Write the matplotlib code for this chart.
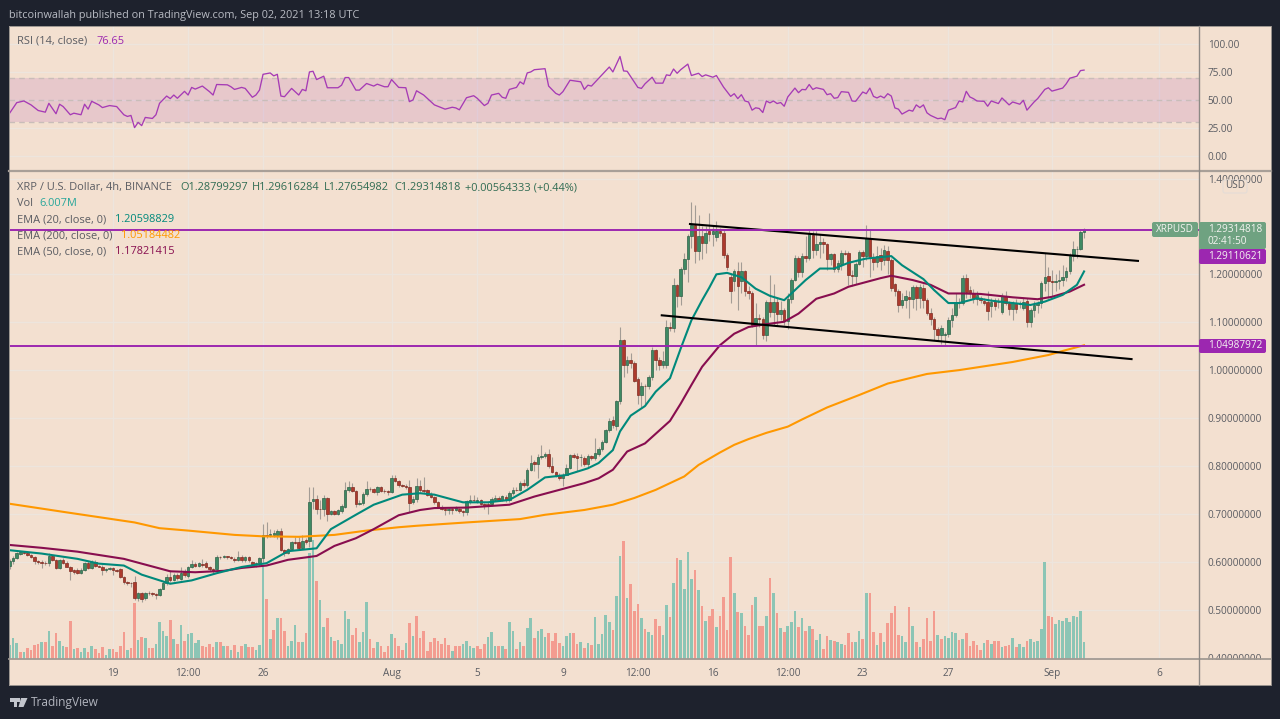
"""XRP / USD 4h TradingView screenshot: RSI pane, candles, EMAs, volume overlay."""
import matplotlib
matplotlib.use("Agg")
import numpy as np
import matplotlib.pyplot as plt
from matplotlib.patches import FancyBboxPatch, Polygon, Rectangle

W, H = 1280, 719
plt.rcParams["font.family"] = ["Open Sans", "DejaVu Sans"]

opens = [
    .592, .601, .608, .617, .62, .619, .615, .61, .602, .599,
    .598, .597, .611, .604, .587, .603, .598, .59, .583, .583,
    .577, .583, .597, .587, .6, .592, .59, .582, .584, .586,
    .582, .584, .568, .557, .556, .557, .524, .535, .524, .535,
    .534, .533, .53, .544, .556, .568, .562, .572, .564, .579,
    .57, .589, .596, .592, .596, .598, .589, .585, .584, .61,
    .609, .611, .609, .606, .603, .609, .603, .609, .6, .596,
    .597, .607, .655, .655, .655, .655, .665, .624, .619, .626,
    .641, .642, .629, .646, .644, .727, .731, .711, .711, .733,
    .7, .705, .7, .705, .714, .75, .756, .748, .72, .722,
    .741, .752, .751, .745, .755, .748, .747, .745, .774, .769,
    .76, .759, .757, .725, .73, .759, .75, .749, .742, .736,
    .724, .715, .71, .708, .711, .709, .711, .705, .704, .725,
    .729, .725, .729, .72, .72, .72, .728, .733, .729, .736,
    .728, .743, .75, .749, .765, .76, .792, .808, .804, .819,
    .82, .825, .8, .788, .78, .775, .782, .796, .822, .82,
    .818, .816, .803, .82, .816, .825, .836, .85, .875, .896,
    .883, .936, 1.062, 1.01, 1.022, 1.014, .981, .949, .967, .966,
    .985, 1.041, 1.021, 1.011, 1.011, 1.09, 1.088, 1.177, 1.154, 1.212,
    1.233, 1.28, 1.302, 1.248, 1.281, 1.265, 1.29, 1.284, 1.278, 1.291,
    1.287, 1.241, 1.194, 1.186, 1.206, 1.186, 1.206, 1.166, 1.162, 1.094,
    1.109, 1.106, 1.073, 1.142, 1.122, 1.142, 1.118, 1.126, 1.102, 1.149,
    1.189, 1.234, 1.205, 1.238, 1.235, 1.283, 1.25, 1.263, 1.268, 1.263,
    1.231, 1.242, 1.212, 1.221, 1.244, 1.244, 1.199, 1.197, 1.222, 1.246,
    1.239, 1.276, 1.236, 1.226, 1.24, 1.229, 1.248, 1.23, 1.18, 1.166,
    1.135, 1.147, 1.153, 1.148, 1.173, 1.15, 1.172, 1.147, 1.119, 1.107,
    1.085, 1.073, 1.074, 1.076, 1.105, 1.115, 1.143, 1.14, 1.192, 1.168,
    1.16, 1.148, 1.15, 1.145, 1.143, 1.133, 1.145, 1.142, 1.122, 1.155,
    1.141, 1.127, 1.14, 1.137, 1.13, 1.144, 1.101, 1.125, 1.135, 1.14,
    1.181, 1.196, 1.187, 1.183, 1.185, 1.188, 1.194, 1.206, 1.239, 1.252, 1.253, 1.28799,
]
closes = [
    .601, .608, .618, .62, .619, .615, .61, .602, .599, .598,
    .597, .611, .604, .587, .603, .598, .59, .581, .578, .577,
    .583, .597, .587, .6, .592, .59, .582, .584, .586, .582,
    .58, .569, .557, .556, .555, .524, .535, .522, .535, .534,
    .533, .53, .544, .556, .568, .562, .572, .565, .577, .572,
    .589, .596, .592, .598, .593, .589, .585, .581, .61, .609,
    .611, .609, .608, .603, .609, .603, .609, .603, .596, .597,
    .607, .655, .654, .658, .66, .665, .624, .619, .626, .641,
    .639, .629, .643, .642, .725, .731, .711, .71, .733, .7,
    .705, .7, .708, .716, .75, .756, .748, .72, .723, .742,
    .752, .751, .746, .755, .748, .747, .745, .774, .769, .76,
    .759, .757, .723, .73, .759, .75, .747, .74, .736, .724,
    .715, .71, .709, .711, .708, .712, .705, .704, .726, .729,
    .728, .729, .72, .717, .716, .73, .733, .728, .737, .728,
    .743, .75, .749, .765, .76, .792, .806, .804, .819, .82,
    .825, .8, .788, .78, .775, .78, .796, .822, .819, .817,
    .818, .803, .82, .817, .826, .836, .85, .875, .894, .885,
    .936, 1.062, 1.01, 1.022, 1.014, .978, .949, .967, .966, .985,
    1.043, 1.021, 1.011, 1.02, 1.09, 1.088, 1.177, 1.154, 1.212, 1.233,
    1.28, 1.302, 1.248, 1.281, 1.265, 1.287, 1.284, 1.29, 1.29, 1.287,
    1.241, 1.215, 1.165, 1.206, 1.176, 1.206, 1.166, 1.162, 1.094, 1.109,
    1.106, 1.073, 1.142, 1.122, 1.142, 1.118, 1.126, 1.102, 1.149, 1.189,
    1.234, 1.205, 1.238, 1.235, 1.285, 1.25, 1.263, 1.268, 1.263, 1.231,
    1.242, 1.212, 1.223, 1.244, 1.242, 1.199, 1.197, 1.222, 1.246, 1.239,
    1.276, 1.236, 1.225, 1.238, 1.228, 1.25, 1.23, 1.172, 1.166, 1.136,
    1.147, 1.155, 1.148, 1.173, 1.15, 1.173, 1.147, 1.119, 1.107, 1.085,
    1.073, 1.087, 1.076, 1.105, 1.115, 1.143, 1.14, 1.192, 1.164, 1.16,
    1.15, 1.157, 1.147, 1.14, 1.124, 1.142, 1.133, 1.143, 1.155, 1.141,
    1.127, 1.14, 1.127, 1.14, 1.143, 1.1, 1.125, 1.135, 1.14, 1.182,
    1.195, 1.187, 1.183, 1.187, 1.188, 1.195, 1.206, 1.239, 1.252, 1.253, 1.288, 1.29315,
]
highs = [
    .605, .612, .621, .623, .623, .622, .617, .612, .604, .603,
    .601, .618, .613, .606, .606, .607, .601, .592, .585, .586,
    .586, .6, .601, .603, .603, .594, .593, .587, .589, .588,
    .585, .587, .57, .56, .558, .571, .537, .537, .536, .539,
    .537, .535, .546, .559, .575, .583, .576, .576, .588, .585,
    .592, .603, .6, .6, .606, .601, .592, .587, .613, .612,
    .615, .612, .611, .609, .622, .613, .612, .611, .602, .6,
    .609, .678, .683, .669, .666, .669, .67, .627, .629, .643,
    .652, .652, .656, .65, .756, .756, .74, .728, .74, .735,
    .708, .708, .711, .72, .767, .768, .764, .75, .728, .745,
    .768, .755, .753, .758, .758, .752, .75, .78, .78, .771,
    .762, .762, .77, .737, .775, .77, .776, .752, .745, .738,
    .726, .718, .712, .714, .714, .716, .713, .708, .728, .74,
    .74, .735, .73, .722, .724, .735, .74, .737, .74, .74,
    .748, .755, .755, .768, .772, .795, .822, .812, .825, .843,
    .83, .835, .818, .79, .785, .785, .803, .825, .828, .826,
    .825, .82, .824, .823, .858, .84, .855, .878, .9, .905,
    .938, 1.089, 1.065, 1.03, 1.035, 1.02, .985, .975, .97, .99,
    1.048, 1.045, 1.027, 1.04, 1.105, 1.1, 1.193, 1.18, 1.216, 1.245,
    1.285, 1.35, 1.344, 1.323, 1.3, 1.3, 1.329, 1.3, 1.311, 1.297,
    1.292, 1.245, 1.2, 1.212, 1.225, 1.225, 1.21, 1.175, 1.165, 1.14,
    1.118, 1.11, 1.146, 1.198, 1.18, 1.15, 1.145, 1.13, 1.16, 1.192,
    1.24, 1.238, 1.245, 1.28, 1.295, 1.29, 1.29, 1.285, 1.275, 1.265,
    1.245, 1.245, 1.23, 1.25, 1.25, 1.248, 1.21, 1.225, 1.25, 1.25,
    1.302, 1.295, 1.245, 1.26, 1.255, 1.262, 1.26, 1.235, 1.182, 1.17,
    1.16, 1.168, 1.165, 1.178, 1.178, 1.18, 1.18, 1.15, 1.13, 1.11,
    1.09, 1.095, 1.08, 1.11, 1.13, 1.16, 1.15, 1.198, 1.2, 1.175,
    1.17, 1.165, 1.155, 1.15, 1.165, 1.15, 1.15, 1.15, 1.16, 1.165,
    1.145, 1.145, 1.148, 1.145, 1.15, 1.15, 1.13, 1.145, 1.145, 1.185,
    1.245, 1.215, 1.21, 1.2, 1.21, 1.22, 1.215, 1.245, 1.27, 1.26, 1.292, 1.29616,
]
lows = [
    .585, .595, .605, .615, .616, .612, .607, .595, .595, .586,
    .593, .592, .601, .585, .585, .595, .588, .561, .575, .575,
    .575, .58, .585, .585, .59, .588, .572, .578, .582, .572,
    .578, .565, .553, .551, .548, .52, .518, .516, .52, .53,
    .529, .522, .528, .542, .552, .558, .56, .562, .561, .569,
    .565, .586, .589, .588, .59, .587, .58, .577, .582, .606,
    .607, .606, .605, .6, .601, .6, .6, .6, .593, .59,
    .592, .6, .65, .651, .652, .648, .622, .612, .617, .624,
    .636, .627, .626, .636, .63, .71, .7, .69, .695, .685,
    .697, .697, .698, .702, .712, .745, .745, .715, .718, .718,
    .738, .748, .743, .74, .745, .744, .74, .743, .766, .757,
    .755, .752, .703, .72, .725, .745, .744, .737, .733, .72,
    .712, .707, .698, .7, .7, .705, .702, .695, .698, .72,
    .725, .722, .718, .71, .699, .717, .726, .726, .726, .725,
    .725, .74, .747, .747, .757, .757, .79, .79, .774, .815,
    .816, .795, .785, .777, .77, .759, .78, .794, .816, .79,
    .8, .8, .795, .812, .813, .82, .832, .847, .87, .88,
    .875, .93, .985, .995, 1.005, .975, .93, .924, .93, .96,
    .98, 1.0, 1.0, 1.005, 1.005, 1.082, 1.08, 1.132, 1.135, 1.2,
    1.183, 1.255, 1.224, 1.23, 1.233, 1.245, 1.27, 1.26, 1.27, 1.28,
    1.235, 1.21, 1.14, 1.165, 1.125, 1.16, 1.155, 1.148, 1.09, 1.052,
    1.09, 1.065, 1.06, 1.11, 1.095, 1.095, 1.105, 1.095, 1.085, 1.14,
    1.185, 1.195, 1.195, 1.225, 1.23, 1.235, 1.24, 1.235, 1.245, 1.21,
    1.22, 1.205, 1.205, 1.21, 1.24, 1.177, 1.175, 1.18, 1.22, 1.215,
    1.23, 1.195, 1.21, 1.215, 1.21, 1.22, 1.2, 1.165, 1.155, 1.122,
    1.13, 1.13, 1.108, 1.13, 1.125, 1.13, 1.13, 1.115, 1.095, 1.063,
    1.06, 1.055, 1.053, 1.07, 1.09, 1.11, 1.13, 1.135, 1.15, 1.15,
    1.14, 1.135, 1.14, 1.135, 1.105, 1.11, 1.125, 1.13, 1.118, 1.135,
    1.115, 1.105, 1.12, 1.13, 1.125, 1.09, 1.09, 1.11, 1.12, 1.13,
    1.165, 1.15, 1.155, 1.165, 1.17, 1.175, 1.185, 1.2, 1.228, 1.235, 1.25, 1.27655,
]

# volume in raw chart units, last bar (50) is the 6.007M of the legend
vols = [
    43, 62, 48, 22, 20, 33, 28, 42, 45, 52,
    50, 83, 38, 78, 53, 38, 37, 113, 30, 32,
    22, 33, 22, 38, 30, 17, 35, 12, 30, 30,
    22, 40, 82, 27, 32, 168, 58, 65, 62, 33,
    33, 45, 110, 85, 68, 118, 60, 45, 103, 53,
    75, 78, 48, 57, 40, 35, 45, 35, 50, 50,
    40, 38, 27, 42, 22, 40, 45, 35, 35, 28,
    43, 282, 180, 60, 88, 123, 122, 85, 40, 53,
    103, 50, 50, 78, 318, 357, 235, 177, 95, 123,
    65, 53, 57, 45, 145, 120, 73, 92, 50, 80,
    170, 60, 33, 50, 40, 22, 40, 75, 63, 40,
    27, 47, 108, 70, 128,
    63, 83, 25, 52, 63, 53, 45, 62, 42, 23,
    38, 38, 45, 55, 38, 33, 40, 30, 45, 65,
    80, 40, 40, 40, 30, 110, 85, 30, 52, 38,
    93, 122, 63, 85, 90, 67, 78, 55, 78, 47,
    40, 68, 78, 78, 45, 50, 32, 47, 42, 125,
    45, 75, 133, 110, 87, 188, 310, 354, 183, 225,
    143, 165, 122, 90, 82, 72, 120, 98, 72, 162,
    125, 227, 303, 297, 210, 320, 240, 268, 207, 158,
    115, 128, 150, 95, 128, 187, 87, 305, 197, 142,
    138, 98, 72, 162, 185, 100, 98, 128, 243, 197,
    138, 93, 82, 100, 110, 143, 95, 123, 85, 98,
    90, 58, 75, 30, 68, 57, 55, 50,
    45, 42, 78, 50, 50, 83, 60, 198, 198,
    82, 42, 77, 50, 108, 138, 158, 73, 70, 52,
    155, 98, 50, 37, 60, 123, 53, 145, 72, 60,
    70, 63, 82, 78, 57, 60, 77, 40, 55, 42,
    28, 47, 58, 45, 55, 53, 37, 40, 42, 62,
    36, 45, 37, 53, 60, 52, 53, 90, 290, 130,
    125, 105, 118, 113, 123, 110, 128, 127, 145, 50,
]
vol_dirs = (
    "gggrgrrrrg" "rgrrggrrgr" "ggrgrrrggr" "rrrgrrgrgr" "rggggrgrgr" "ggggrrrrgr"
    "grgrgrgrrg" "ggrgrgrrgg" "grgrggrggr" "grggggrrgg" "grrgrrrgrr" "rgrgr"
    "rrrrrrrrrg" "rrggggrrrg" "ggrgrggrgr" "ggrgggrrrr" "gggrrgrgrg" "ggggrggrgr"
    "rrgrggrrgg" "rgrggggrgr" "grrgrrrrgr" "grrrgrrgrg" "rgrgggrgrg" "rggrrgrg"
    "grrrggrgr" "rgrgrrrrgg" "rgrgrrrrgr" "ggggrgrrrr" "rgrgrrgrrg" "rggrgggggr" "rggggggggg"
)

ema200_idx = [0, 16, 35, 42, 50, 63, 71, 81, 91, 100, 109, 114, 128, 143, 150, 161, 169, 175, 181,
              185, 189, 193, 199, 203, 207, 212, 218, 222, 229, 238, 246, 257, 266, 281, 291, 296, 301]
ema200 = [.721, .703, .682, .67, .665, .656, .653, .652, .656, .665, .672, .675, .682, .689, .698,
          .708, .719, .733, .75, .764, .778, .802, .828, .844, .856, .869, .882, .897, .922, .948,
          .972, .992, 1.0, 1.017, 1.0315, 1.042, 1.05184]
ema50_idx = [0, 9, 19, 32, 39, 45, 52, 60, 65, 72, 78, 86, 91, 97, 102, 109, 115, 119, 128, 140,
             147, 155, 161, 165, 169, 173, 178, 185, 188, 191, 194, 199, 203, 207, 212, 217, 221,
             226, 231, 235, 240, 244, 247, 253, 258, 263, 267, 272, 281, 288, 292, 297, 301]
ema50 = [.635, .629, .621, .606, .592, .58, .578, .581, .587, .592, .604, .612, .633, .649, .668,
         .697, .708, .712, .713, .719, .736, .752, .764, .774, .792, .83, .847, .894, .93, .969,
         1.007, 1.052, 1.076, 1.09, 1.096, 1.101, 1.118, 1.149, 1.16, 1.174, 1.184, 1.192, 1.197,
         1.188, 1.178, 1.16, 1.16, 1.159, 1.152, 1.148, 1.153, 1.164, 1.17821]
ema20_idx = [0, 9, 19, 25, 32, 37, 45, 51, 58, 65, 72, 78, 86, 90, 97, 102, 110, 115, 119, 127, 134,
             140, 145, 150, 156, 162, 165, 169, 171, 174, 178, 181, 185, 188, 191, 194, 196, 198,
             201, 205, 209, 213, 217, 219, 223, 227, 231, 235, 240, 247, 250, 256, 259, 263, 266,
             271, 275, 281, 286, 290, 295, 299, 301]
ema20 = [.624, .617, .606, .596, .592, .573, .554, .561, .576, .589, .597, .622, .628, .668, .698,
         .719, .74, .743, .74, .724, .724, .729, .75, .776, .781, .795, .806, .833, .872, .905,
         .925, .955, .983, 1.045, 1.104, 1.146, 1.172, 1.2, 1.203, 1.194, 1.17, 1.155, 1.146, 1.16,
         1.188, 1.212, 1.212, 1.224, 1.233, 1.238, 1.219, 1.19, 1.167, 1.14, 1.14, 1.15, 1.145,
         1.14, 1.136, 1.143, 1.157, 1.178, 1.20599]

rsi_idx = [0, 2, 4, 6, 8, 10, 11, 13, 14, 15, 17, 18, 20, 21, 22, 23, 25, 26, 28, 30, 32, 33, 34, 35,
           36, 37, 38, 40, 41, 42, 44, 45, 46, 47, 49, 50, 51, 52, 54, 56, 57, 58, 61, 62, 63, 65, 66,
           68, 69, 70, 71, 73, 74, 75, 76, 77, 79, 81, 82, 83, 84, 85, 86, 88, 89, 92, 93, 94, 95, 97,
           98, 100, 102, 103, 105, 106, 107, 109, 111, 112, 113, 114, 116, 117, 119, 122, 124, 125,
           126, 128, 130, 131, 133, 134, 135, 137, 138, 139, 140, 142, 143, 144, 145, 146, 147, 150,
           151, 153, 154, 155, 157, 160, 161, 162, 163, 168, 169, 171, 172, 173, 176, 177, 178, 180,
           181, 183, 184, 185, 186, 187, 188, 190, 191, 193, 194, 195, 197, 198, 200, 202, 203, 204,
           205, 206, 207, 208, 209, 210, 211, 212, 213, 214, 215, 216, 217, 218, 220, 221, 222, 223,
           224, 225, 226, 228, 229, 230, 231, 232, 233, 235, 236, 237, 239, 240, 241, 242, 243, 244,
           245, 246, 247, 248, 249, 250, 252, 253, 254, 255, 256, 257, 258, 260, 261, 262, 263, 265,
           266, 267, 268, 269, 270, 271, 273, 274, 275, 277, 278, 280, 281, 283, 284, 285, 287, 288,
           290, 291, 292, 295, 296, 297, 299, 300, 301]
rsi = [38.2, 47.6, 49.1, 45.6, 40.6, 39.1, 47, 37.7, 46.2, 44.1, 36.8, 38.2, 36.8, 46.2, 41.8, 48.8,
       45.6, 43.2, 45, 44.1, 36.8, 35.3, 36.2, 25.3, 30, 27.1, 34.4, 33.5, 36.8, 47, 53.5, 51.2, 54.4,
       51.5, 57.7, 54.4, 61.2, 59.7, 62.4, 57.4, 54.4, 63.8, 63.5, 61.8, 59.4, 61.2, 60.3, 52.4, 54.4,
       58.8, 72.9, 74.1, 71.5, 72.9, 53.5, 52.9, 60.3, 54.4, 59.4, 58.2, 75, 75.6, 68.2, 71.2, 60.9,
       60.9, 63.2, 70, 70, 58.8, 58.8, 64.7, 62.4, 64.1, 61.8, 61.8, 68.2, 61.2, 60.9, 48.5, 50, 58.2,
       54.4, 51.5, 45.6, 41.8, 43.5, 42.9, 41.2, 52, 53.8, 51.5, 45, 47, 54.4, 55.9, 52.4, 51.5, 59.4,
       61.2, 66.2, 64.1, 74.1, 75, 77, 77.9, 62.4, 55.9, 54.4, 57.4, 67.6, 66.2, 59.4, 63.2, 62.4, 79.4,
       75, 88.8, 75.9, 75.6, 61.2, 60.3, 64.4, 70.3, 65, 65, 72.4, 71.8, 77.6, 73.8, 77, 82, 71.8, 73.8,
       70.9, 72.4, 70.3, 71.8, 61.5, 53.2, 55.6, 51.2, 54.7, 49.1, 48.2, 40.9, 43, 42.4, 38.8, 49.1,
       47.4, 49.1, 46.8, 47.7, 44.4, 52.7, 60.6, 56.5, 59.4, 59.1, 63.8, 59.4, 60.9, 59.4, 54.7, 55.6,
       51.5, 52.1, 57.4, 56.8, 49.1, 48.8, 57.1, 55.6, 60.6, 53.2, 51.8, 53.5, 51.8, 55.6, 53.5, 42.9,
       41.8, 37.4, 40.9, 40, 45.6, 43.2, 45.6, 38.5, 36.2, 33.3, 33.8, 32.4, 40.9, 43.2, 49.1, 48.2,
       57.7, 52.7, 51.2, 49.1, 48.8, 44.4, 49.1, 46.8, 51.8, 45.6, 48.2, 46.2, 49.7, 40.9, 48.2, 51.2,
       59.4, 60.9, 57.9, 60.6, 64.4, 69.4, 71.2, 76.2, 76.65]

level_high = 1.29314818
level_low = 1.04987972
trend_top_idx, trend_top = [190.6, 316.1], [1.305, 1.228]
trend_bot_idx, trend_bot = [182.7, 314.3], [1.1144, 1.023]

price_ticks = [1.4, 1.3, 1.2, 1.1, 1.0, .9, .8, .7, .6, .5, .4]
price_labels = [f"{p:.8f}" for p in price_ticks]
price_labels[1] = ""
price_grid = [1.4, 1.2, 1.1, 1.0, .9, .8, .7, .6, .5, .4]
time_idx = [29, 50, 71, 107, 131, 155, 176, 197, 218, 239, 263, 292, 322]
time_labels = ["19", "12:00", "26", "Aug", "5", "9", "12:00", "16", "12:00", "23", "27", "Sep", "6"]
rsi_ticks = [100, 75, 50, 25, 0]
rsi_labels = ["100.00", "75.00", "50.00", "25.00", "0.00"]

DARK = "#1e222d"
PANEL = "#f3e0d0"
GRID = "#ede5dd"
AXIS_TXT = "#5a5c62"
PURPLE = "#9c27b0"
SCALE_SIZE = 7.2
n = len(closes)
bars = np.arange(n)
XLIM = (-0.17, 333.2)
MAIN_YLIM = (0.3969, 1.4136)


def box(x0, y0, x1, y1):
    return [x0 / W, 1 - y1 / H, (x1 - x0) / W, (y1 - y0) / H]


fig = plt.figure(figsize=(W / 100, H / 100), dpi=100, facecolor=DARK)

ax_bg = fig.add_axes(box(9, 26, 1271, 685), facecolor=PANEL, zorder=0)
ax_bg.set_xticks([])
ax_bg.set_yticks([])
for s in ax_bg.spines.values():
    s.set_visible(False)

# RSI pane -------------------------------------------------------------------
ax_rsi = fig.add_axes(box(9, 26, 1199, 170), zorder=2)
ax_rsi.patch.set_visible(False)
ax_rsi.set_xlim(*XLIM)
ax_rsi.set_ylim(-12.5, 116)
ax_rsi.set_yticks(rsi_ticks)
ax_rsi.set_yticklabels(rsi_labels)
ax_rsi.set_xticks(time_idx)
ax_rsi.tick_params(axis="x", length=0, labelbottom=False)
ax_rsi.yaxis.tick_right()
ax_rsi.tick_params(axis="y", length=0, pad=6.3, labelsize=SCALE_SIZE, labelcolor=AXIS_TXT)
ax_rsi.grid(color=GRID, lw=1)
ax_rsi.set_axisbelow(True)
ax_rsi.axhspan(30, 70, color="#9c27b0", alpha=0.13, lw=0)
for lev in (70, 50, 30):
    ax_rsi.axhline(lev, color="#c9bdb9", lw=1, ls=(0, (4, 3)))
ax_rsi.plot(rsi_idx, rsi, color="#a63bb5", lw=0.95)
for s in ax_rsi.spines.values():
    s.set_visible(False)

# Grid and price/time scale --------------------------------------------------
ax_grid = fig.add_axes(box(9, 172, 1199, 659), zorder=1)
ax_grid.patch.set_visible(False)
ax_grid.set_xlim(*XLIM)
ax_grid.set_ylim(*MAIN_YLIM)
ax_grid.set_yticks(price_ticks)
ax_grid.set_yticklabels(price_labels)
ax_grid.set_xticks(time_idx)
ax_grid.set_xticklabels(time_labels)
ax_grid.yaxis.tick_right()
ax_grid.tick_params(axis="y", length=0, pad=6.3, labelsize=SCALE_SIZE, labelcolor=AXIS_TXT)
ax_grid.tick_params(axis="x", length=0, pad=6.5, labelsize=SCALE_SIZE, labelcolor=AXIS_TXT)
ax_grid.xaxis.grid(True, color=GRID, lw=1)
for p in price_grid:
    ax_grid.axhline(p, color=GRID, lw=1, zorder=0.5)
for s in ax_grid.spines.values():
    s.set_visible(False)

# Volume overlay -------------------------------------------------------------
ax_vol = fig.add_axes(box(9, 172, 1199, 659), zorder=1.5)
ax_vol.patch.set_visible(False)
ax_vol.set_xlim(*XLIM)
ax_vol.set_ylim(0, 1461)
ax_vol.axis("off")
vol_x = np.arange(n - len(vols), n)
vol_colors = ["#8cc5b5" if d == "g" else "#f39c90" for d in vol_dirs]
ax_vol.bar(vol_x, vols, width=0.74, color=vol_colors, lw=0)

# Candles and lines ----------------------------------------------------------
ax = fig.add_axes(box(9, 172, 1199, 659), zorder=3)
ax.patch.set_visible(False)
ax.set_xlim(*XLIM)
ax.set_ylim(*MAIN_YLIM)
ax.axis("off")

op = np.array(opens)
cl = np.array(closes)
up = cl >= op
ax.vlines(bars, lows, highs, color="#a39c95", lw=0.8, zorder=2)
ax.bar(bars[up], (cl - op)[up], bottom=op[up], width=0.7, color="#3e8a63",
       edgecolor="#2f6149", lw=0.5, zorder=3)
ax.bar(bars[~up], (op - cl)[~up], bottom=cl[~up], width=0.7, color="#ad3a2d",
       edgecolor="#7f2c22", lw=0.5, zorder=3)

ax.plot(ema200_idx, ema200, color="#ff9800", lw=1.5, zorder=4)
ax.plot(ema50_idx, ema50, color="#880e4f", lw=1.5, zorder=4)
ax.plot(ema20_idx, ema20, color="#00897b", lw=1.5, zorder=5)
ax.plot(trend_top_idx, trend_top, color="black", lw=1.5, zorder=6)
ax.plot(trend_bot_idx, trend_bot, color="black", lw=1.5, zorder=6)
ax.axhline(level_high, color=PURPLE, lw=1.4, zorder=7)
ax.axhline(level_low, color=PURPLE, lw=1.4, zorder=7)

# Overlay in screen pixels: separators, tags, legend texts ---------------------
ov = fig.add_axes([0, 0, 1, 1], zorder=5)
ov.set_xlim(0, W)
ov.set_ylim(H, 0)
ov.axis("off")
ov.patch.set_visible(False)

ov.add_patch(Rectangle((1200, 659.5), 71, 7, color=PANEL, lw=0, zorder=1))
ov.plot([9, 1271], [170.8, 170.8], color="#a89f98", lw=1.6, zorder=2)
ov.plot([9, 1271], [659.3, 659.3], color="#a29a93", lw=1.3, zorder=2)
ov.plot([1199.3, 1199.3], [26, 685], color="#8d8985", lw=1.0, zorder=2)
ov.plot([9, 1271, 1271, 9, 9], [685, 685, 26, 26, 685], color="#9b9590", lw=0.7, zorder=2)


def tag(x0, y0, x1, y1, color):
    ov.add_patch(FancyBboxPatch((x0 + 1, y0 + 1), x1 - x0 - 2, y1 - y0 - 2,
                                boxstyle="round,pad=1,rounding_size=2",
                                fc=color, ec="none", zorder=3))


def label(x, y, s, color=AXIS_TXT, size=7.9, ha="left", **kw):
    return ov.text(x, y, s, color=color, fontsize=size, ha=ha, va="center", zorder=4, **kw)


tag(1152, 222, 1198, 237, "#6fa281")
label(1175, 229.8, "XRPUSD", "#f4f4f0", ha="center", size=SCALE_SIZE)
tag(1199, 222, 1266, 249, "#6fa281")
label(1208, 229.8, "1.29314818", "#f4f4f0", size=SCALE_SIZE)
label(1208, 242, "02:41:50", "#f4f4f0", size=SCALE_SIZE)
tag(1199, 249, 1266, 264, PURPLE)
label(1208, 256.5, "1.29110621", "#f4f4f0", size=SCALE_SIZE)
tag(1199, 339, 1266, 353, PURPLE)
label(1208, 346, "1.04987972", "#f4f4f0", size=SCALE_SIZE)

ov.add_patch(FancyBboxPatch((1224, 181), 22, 11, boxstyle="round,pad=1,rounding_size=2",
                            fc=PANEL, ec="#e4dcd6", lw=0.8, zorder=3))
label(1235, 186, "USD", ha="center", size=SCALE_SIZE)

label(9, 15.5, "bitcoinwallah published on TradingView.com, Sep 02, 2021 13:18 UTC", "#b8bbc3", size=7.85)

label(17, 41, "RSI (14, close)")
label(96, 41, "76.65", PURPLE)

label(17, 187.5, "XRP / U.S. Dollar, 4h, BINANCE")
ohlc_green = "#2f6b52"
label(180, 187.5, "O1.28799297", ohlc_green)
label(252, 187.5, "H1.29616284", ohlc_green)
label(324, 187.5, "L1.27654982", ohlc_green)
label(394, 187.5, "C1.29314818", ohlc_green)
label(465, 187.5, "+0.00564333 (+0.44%)", ohlc_green)
label(17, 203.5, "Vol")
label(39, 203.5, "6.007M", "#26a69a")
label(17, 219.5, "EMA (20, close, 0)")
label(115, 219.5, "1.20598829", "#00897b")
label(17, 235.5, "EMA (200, close, 0)")
label(121, 235.5, "1.05184482", "#ff9800")
label(17, 251.5, "EMA (50, close, 0)")
label(115, 251.5, "1.17821415", "#880e4f")

# footer logo and name
logo = "#c2c5cc"
ov.add_patch(Polygon([(9.5, 698), (17, 698), (17, 707), (13.5, 707), (13.5, 701.5), (9.5, 701.5)],
                     fc=logo, ec="none"))
ov.add_patch(Polygon([(21, 698), (27.5, 698), (23.5, 707), (18.5, 707)], fc=logo, ec="none"))
ov.add_patch(Polygon([(16.8, 698), (20, 698), (20, 701.5), (16.8, 701.5)], fc=logo, ec="none"))
label(31, 702.5, "TradingView", "#b2b5be", size=8.6)

fig.savefig("out.png", dpi=100, facecolor=fig.get_facecolor())
print(n, len(highs), len(lows), len(opens), len(vols), len(vol_dirs), len(rsi_idx), len(rsi))
